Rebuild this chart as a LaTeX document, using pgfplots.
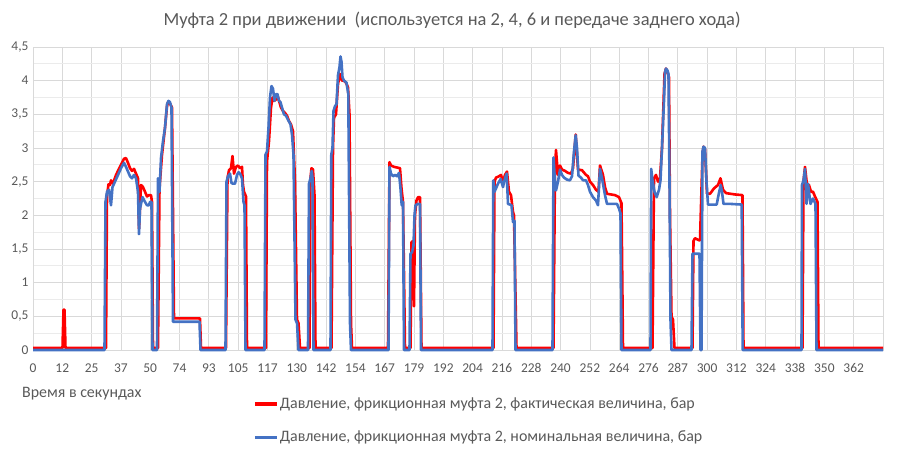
\documentclass[border=0pt]{standalone}
\usepackage{pgfplots}
\pgfplotsset{compat=1.18}
\usepackage{fontspec}
\setmainfont{Carlito}
\definecolor{txtgray}{HTML}{595959}
\definecolor{gridgray}{HTML}{D9D9D9}
\definecolor{gridlight}{HTML}{EBEBEB}
\definecolor{xlred}{HTML}{FF0000}
\definecolor{xlblue}{HTML}{4472C4}
\begin{document}
\begin{tikzpicture}
\useasboundingbox (-33bp,-115bp) rectangle (869bp,350bp);
\begin{axis}[
  at={(0,0)}, anchor=south west,
  scale only axis, width=850bp, height=303bp,
  xmin=33, xmax=883, ymin=0, ymax=4.5,
  xtick={33,62.31,91.62,120.93,150.24,179.55,208.86,238.17,267.48,296.79,326.1,355.41,384.72,414.03,443.34,472.65,501.96,531.27,560.58,589.89,619.2,648.51,677.82,707.13,736.44,765.75,795.06,824.37,853.68,882.99},
  xticklabels={0,12,25,37,50,74,93,105,117,130,142,154,167,179,192,204,216,228,240,252,264,276,287,300,312,324,338,350,362,},
  ytick={0,0.5,...,4.5},
  minor y tick num=1,
  xmajorgrids, ymajorgrids, yminorgrids,
  major grid style={gridgray, line width=0.75bp},
  minor grid style={gridlight, line width=0.75bp},
  axis line style={draw=gridgray, line width=0.75bp},
  major tick length=0pt, minor tick length=0pt,
  tick label style={font=\fontsize{13.5}{15}\selectfont, text=txtgray},
  xticklabel style={yshift=-10bp},
  yticklabel style={xshift=-1bp},
  /pgf/number format/assume math mode=true,
  /pgf/number format/use comma,
  legend style={at={(rel axis cs:0.2588,-0.157)}, anchor=north west, draw=none, fill=none,
    inner xsep=0pt, inner ysep=0pt, row sep=21bp,
    font=\fontsize{16}{18}\selectfont, text=txtgray,
    nodes={inner xsep=1.5bp, inner ysep=0pt}},
  legend cell align=left,
  legend image code/.code={\draw[#1, line width=3.2bp] (0bp,0bp) -- (22bp,0bp);},
  clip=false,
]
\addplot[xlred, line width=2.6bp, line join=round] coordinates {
(33,0.03) (62.5,0.03) (63.5,0.6) (64.5,0.6) (65.5,0.03) (106,0.03) (107,2.3) (108.5,2.46) (110,2.45) (111,2.52) (113,2.47) (116,2.6) (120,2.72) (124,2.84) (126,2.85) (128,2.78) (130,2.7) (132,2.66) (134,2.69) (136,2.62) (138,2.55) (139,1.8) (140,2.1) (141,2.45) (143,2.42) (145,2.35) (147,2.28) (149,2.3) (151,2.3) (152,2.2) (153,0.03) (158,0.03) (159.5,2.4) (162,2.9) (165,3.3) (167,3.62) (168,3.68) (170,3.66) (172,3.6) (174,0.47) (200,0.47) (201,0.03) (226,0.03) (227.5,2.55) (229,2.67) (231,2.7) (232.5,2.88) (234,2.62) (236,2.72) (238,2.74) (240,2.7) (242,2.72) (243,2.45) (244,2.35) (246,2.28) (247,0.03) (266,0.03) (267,2.8) (269,3.1) (271,3.6) (272.5,3.75) (274,3.7) (276,3.72) (277.5,3.78) (279,3.7) (281,3.6) (283,3.55) (285,3.52) (287,3.48) (289,3.4) (291,3.35) (293,3.25) (295,2.5) (297,0.45) (298.5,0.4) (300,0.03) (309.5,0.03) (310.5,2.55) (311.5,2.7) (313,2.68) (314.5,2.3) (315.5,0.03) (331.5,0.03) (333,3.0) (334,3.45) (336,3.5) (338,3.95) (340,4.1) (342,4.0) (344,4.0) (346,3.97) (348,3.9) (349.5,3.5) (351,0.4) (352,0.03) (388,0.03) (389.5,2.79) (391,2.74) (394,2.72) (397,2.71) (400,2.7) (401.5,2.4) (403,2.2) (405,0.03) (410.5,0.03) (411.5,1.6) (413,1.62) (414,0.65) (415,2.0) (416.5,2.22) (418,2.27) (420,2.27) (421.5,0.03) (493.5,0.03) (494.5,2.5) (496,2.56) (499,2.58) (501,2.6) (503,2.5) (505,2.6) (507,2.65) (509,2.35) (511,2.3) (513,2.05) (514,2.0) (516.5,0.03) (553.5,0.03) (555,2.7) (556,2.97) (558,2.6) (560,2.74) (562,2.68) (565,2.66) (568,2.63) (571,2.62) (573,2.7) (575.7,3.2) (578,2.68) (582,2.67) (586,2.6) (588,2.58) (590,2.5) (593,2.45) (596,2.38) (598.5,2.35) (600,2.74) (603,2.6) (605,2.42) (607,2.32) (615,2.3) (619,2.27) (621.5,2.18) (623,0.03) (652.5,0.03) (654,2.55) (656,2.6) (658,2.5) (660,2.55) (662,3.0) (664.5,4.1) (666,4.18) (667.5,4.12) (669,4.05) (670,2.0) (671.5,0.5) (673,0.45) (674.5,0.03) (692.5,0.03) (693.5,1.62) (695,1.66) (699,1.63) (700,1.63) (702.5,2.9) (703.5,3.02) (705,2.98) (707,2.32) (710,2.32) (714,2.4) (718,2.45) (720.5,2.55) (723,2.38) (726,2.33) (735,2.31) (742.5,2.3) (743.5,0.03) (802.5,0.03) (803.5,2.5) (805,2.72) (807,2.45) (809,2.45) (811,2.35) (813,2.35) (815,2.28) (817.5,2.2) (818.5,0.03) (883,0.03)
};
\addlegendentry{Давление, фрикционная муфта 2, фактическая величина, бар}
\addplot[xlblue, line width=2.6bp, line join=round] coordinates {
(33,0) (104.5,0) (105.5,2.2) (107,2.35) (109,2.38) (111,2.15) (112.5,2.42) (115,2.5) (118,2.6) (121,2.7) (124,2.78) (126,2.72) (128,2.65) (130,2.58) (132,2.55) (134,2.6) (136,2.55) (138,2.35) (139,1.72) (140,2.1) (142.5,2.27) (145,2.2) (147,2.15) (149,2.15) (150,2.2) (151.5,2.2) (152.5,0) (157,0) (158,2.55) (159.5,2.35) (161,2.85) (163,3.1) (165,3.3) (167,3.65) (168.5,3.7) (170,3.68) (171.5,3.6) (173,0.42) (199.5,0.42) (200.5,0) (225.5,0) (226.5,2.5) (228,2.58) (230,2.62) (231.5,2.48) (233,2.47) (235,2.47) (237,2.6) (238.5,2.64) (240,2.62) (242,2.55) (243.5,2.2) (244.5,2.15) (245.5,0) (264.5,0) (265.5,2.9) (267,2.95) (268.5,3.3) (270,3.75) (271.5,3.92) (273,3.88) (274.5,3.7) (276,3.8) (277.5,3.8) (279,3.7) (280.5,3.68) (282,3.6) (284,3.5) (286,3.48) (288,3.42) (290.5,3.35) (292,3.2) (293.5,2.9) (295.5,0.45) (297,0.4) (298.5,0) (308,0) (309,2.47) (310.5,2.55) (311.7,2.66) (312.5,2.55) (313.5,0) (330.5,0) (331.3,2.9) (332.5,3.0) (333.5,3.55) (335,3.62) (336.5,3.65) (338,4.08) (339.5,4.2) (340.5,4.36) (341.5,4.28) (342.5,4.05) (344,4.0) (346.5,3.97) (348.3,3.8) (350,0.4) (351,0) (388.5,0) (389.5,2.72) (391,2.62) (393,2.58) (395,2.6) (397,2.58) (399,2.63) (400.5,2.4) (401.7,2.15) (403,2.2) (404,0) (409.5,0) (410.5,1.43) (412,1.45) (413.5,1.55) (414.5,2.0) (415.5,2.15) (418,2.17) (420,2.17) (421,0) (492.5,0) (493.3,2.52) (494.5,2.35) (496,2.4) (498,2.47) (500.7,2.54) (503,2.42) (505,2.55) (506.7,2.62) (508,2.17) (510,2.16) (511.5,2.15) (513,1.9) (514.5,1.92) (515.5,0) (552.5,0) (553.5,2.86) (555,2.5) (556,2.37) (558,2.5) (560,2.68) (562,2.6) (564,2.56) (567,2.53) (570,2.52) (572,2.58) (574,2.95) (575.7,3.19) (577,3.0) (578.5,2.59) (581,2.56) (583,2.52) (586,2.52) (588,2.45) (590,2.35) (593,2.27) (596,2.22) (598,2.15) (600,2.69) (602,2.55) (605,2.3) (607,2.17) (613,2.17) (617,2.17) (619,2.1) (620.5,2.03) (621.5,0) (650.5,0) (651.2,2.69) (652.5,2.52) (654.5,2.35) (656.7,2.27) (659,2.38) (660.5,2.52) (662,3.0) (664,3.7) (665,4.12) (666,4.18) (667.5,4.15) (668.5,4.1) (669.5,2.5) (670.5,0.45) (671.5,0) (691.5,0) (692.5,1.43) (695,1.43) (699.5,1.43) (700.5,0) (701.5,0) (702.5,2.95) (703.5,3.02) (705,3.0) (706.5,2.5) (708,2.16) (712,2.16) (716.7,2.16) (718.5,2.3) (720.7,2.45) (722,2.35) (723.5,2.17) (730,2.17) (741.7,2.16) (742.7,0) (801.5,0) (802,2.45) (803.5,2.52) (805,2.69) (806.5,2.17) (808,2.47) (810.5,2.17) (813,2.25) (815.5,2.17) (816.5,0) (883,0)
};
\addlegendentry{Давление, фрикционная муфта 2, номинальная величина, бар}
\end{axis}
\node[font=\fontsize{18.5}{21}\selectfont, text=txtgray] at (419bp,330bp) {Муфта 2 при движении\ \ (используется на 2, 4, 6 и передаче заднего хода)};
\node[font=\fontsize{16}{18}\selectfont, text=txtgray, anchor=west, inner sep=0pt] at (-11bp,-44bp) {Время в секундах};
\end{tikzpicture}
\end{document}
